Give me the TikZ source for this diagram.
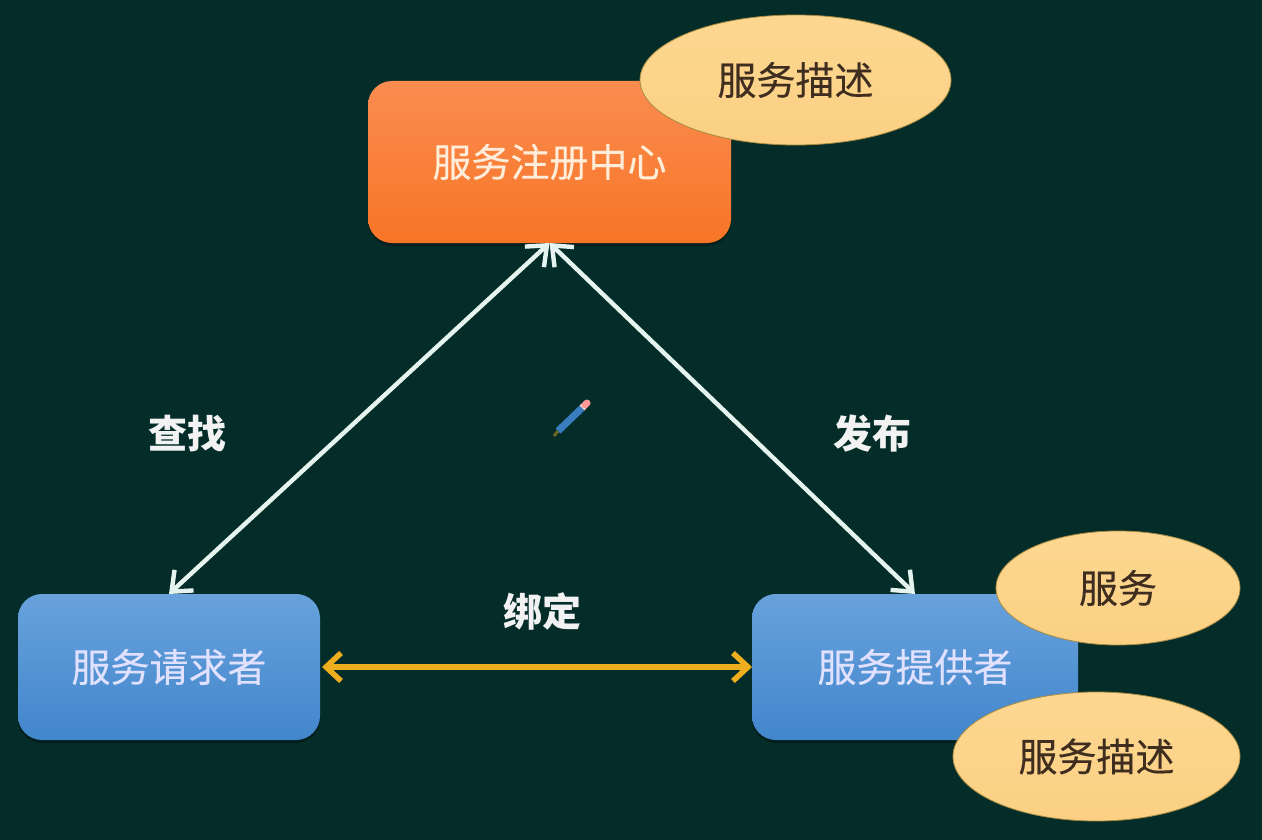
\documentclass[tikz,border=0pt]{standalone}
\usepackage{fontspec}
\newfontfamily\cjk[FakeBold=0.25]{Noto Sans CJK SC}
\newfontfamily\cjkb{Noto Sans CJK SC}
\usetikzlibrary{arrows.meta,shapes.geometric,shadows}
\definecolor{bgc}{HTML}{042D2A}
\definecolor{bluet}{HTML}{68A2DC}
\definecolor{blueb}{HTML}{4286CC}
\definecolor{oranget}{HTML}{FA8C50}
\definecolor{orangeb}{HTML}{F87526}
\definecolor{elt}{HTML}{FDD791}
\definecolor{elb}{HTML}{FBD083}
\definecolor{eledge}{HTML}{A88A40}
\definecolor{inkc}{HTML}{3F2E20}
\definecolor{yarrow}{HTML}{EFAE1E}
\definecolor{warr}{HTML}{E6F4F0}
\definecolor{pencilc}{HTML}{3A7DBE}
\tikzset{
  boxbase/.style={rectangle,rounded corners=24pt,inner sep=0pt,outer sep=0pt,
    drop shadow={shadow xshift=0pt,shadow yshift=-3pt,opacity=0.3,fill=black},
    font=\cjk\fontsize{39}{39}\selectfont},
  bluebox/.style={boxbase,top color=bluet,bottom color=blueb,text=white!88!blue},
  orangebox/.style={boxbase,top color=oranget,bottom color=orangeb,text=white!85!orange},
  bubble/.style={ellipse,draw=eledge,line width=0.8pt,inner sep=0pt,outer sep=0pt,top color=elt,bottom color=elb,
    text=inkc,font=\cjk\fontsize{39}{39}\selectfont},
  lab/.style={text=white!95!black,inner sep=0pt,font=\cjkb\bfseries\fontsize{39}{39}\selectfont},
  whitearrow/.style={draw=warr,line width=4.4pt,{Straight Barb[length=17pt,width=28pt,line width=4.4pt]}-{Straight Barb[length=17pt,width=28pt,line width=4.4pt]}},
  goldarrow/.style={draw=yarrow,line width=5.5pt,{Straight Barb[length=15pt,width=28pt,line width=5.5pt]}-{Straight Barb[length=15pt,width=28pt,line width=5.5pt]}}
}
\begin{document}
\begin{tikzpicture}[x=1pt,y=-1pt]
\fill[bgc] (0,0) rectangle (1262,840);
\useasboundingbox (0,0) rectangle (1262,840);
% boxes
\node[orangebox,minimum width=363pt,minimum height=162pt] (reg) at (549.5,162) {服务注册中心};
\node[bluebox,minimum width=302pt,minimum height=146pt] (req) at (169,667) {服务请求者};
\node[bluebox,minimum width=326pt,minimum height=146pt] (pro) at (915,667) {服务提供者};
% bubbles
\node[bubble,minimum width=311pt,minimum height=130pt] (d1) at (795.5,80) {服务描述};
\node[bubble,minimum width=244pt,minimum height=114pt] (s1) at (1118,588) {服务};
\node[bubble,minimum width=287pt,minimum height=129pt] (d2) at (1096.5,756.5) {服务描述};
% connectors
\draw[whitearrow] (reg.south) -- (req.north);
\draw[whitearrow] (reg.south) -- (pro.north);
\draw[goldarrow,shorten <=2pt] (req.east) -- (pro.west);
% labels
\node[lab] (l1) at (187,434) {查找};
\node[lab] (l2) at (872,434) {发布};
\node[lab] (l3) at (542,611) {绑定};
% pencil
\draw[line width=7pt,color=pencilc] (558,431) -- (582,408);
\draw[line width=7pt,color=white!85!red] (582,408) -- (584,406);
\draw[line width=7pt,color=red!40!white,line cap=round] (585,405) -- (587,403);
\draw[line width=3pt,color=olive!70!black] (554,436) -- (558,431);
\end{tikzpicture}
\end{document}
